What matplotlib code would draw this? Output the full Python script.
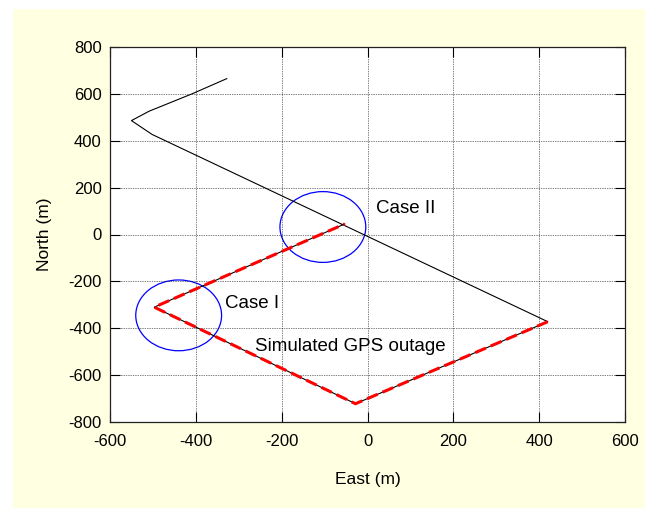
import matplotlib.pyplot as plt
from matplotlib.patches import Ellipse, Rectangle

# true trajectory (black)
true_east = [-328, -409, -509, -550, -502, 420, -28, -497, -53]
true_north = [665, 600, 526, 486, 427, -372, -722, -310, 45]

# estimated trajectory during GPS outage (red dashed)
est_east = [420, -28, -497, -53]
est_north = [-372, -722, -310, 45]

# circled regions: centre east, centre north, width, height
case_labels = ['Case I', 'Case II']
case_east = [-440, -104]
case_north = [-345, 32]
case_w = [200, 200]
case_h = [302, 302]
text_pos = [(-333, -294), (20, 110)]

plt.rcParams['font.family'] = ['Liberation Sans', 'DejaVu Sans']
plt.rcParams['axes.unicode_minus'] = False

fig = plt.figure(figsize=(6.49, 5.08), dpi=100, facecolor='white')
fig.patches.append(Rectangle((13 / 649, 0), 632 / 649, 499 / 508,
                             transform=fig.transFigure, facecolor='#FFFFE1',
                             edgecolor='none', zorder=-1))
ax = fig.add_axes([110 / 649, 1 - 422 / 508, 515 / 649, 375 / 508])
ax.set_facecolor('white')

ax.plot(true_east, true_north, color='black', linewidth=0.8)
ax.plot(est_east, est_north, color='red', linestyle='--', linewidth=2.2,
        dashes=(3.8, 1.7))

for i in range(len(case_labels)):
    ax.add_patch(Ellipse((case_east[i], case_north[i]), case_w[i], case_h[i],
                         fill=False, edgecolor='blue', linewidth=0.9))
    ax.text(text_pos[i][0], text_pos[i][1], case_labels[i], fontsize=13.5,
            va='center', ha='left')
ax.text(-263, -479, 'Simulated GPS outage', fontsize=13.5, va='center', ha='left')

ax.set_xlim(-600, 600)
ax.set_ylim(-800, 800)
ax.set_xticks(range(-600, 601, 200))
ax.set_yticks(range(-800, 801, 200))
ax.tick_params(direction='in', length=7, width=0.8, labelsize=12, pad=6,
               top=True, right=True)
ax.tick_params(axis='x', pad=9)
ax.grid(True, color='black', linestyle=(0, (1, 1.5)), linewidth=0.5)
for s in ax.spines.values():
    s.set_linewidth(0.9)
    s.set_color('#222222')

ax.set_xlabel('East (m)', fontsize=12.5, labelpad=16)
ax.set_ylabel('North (m)', fontsize=12.5, labelpad=12)

fig.savefig('out.png', dpi=100)
